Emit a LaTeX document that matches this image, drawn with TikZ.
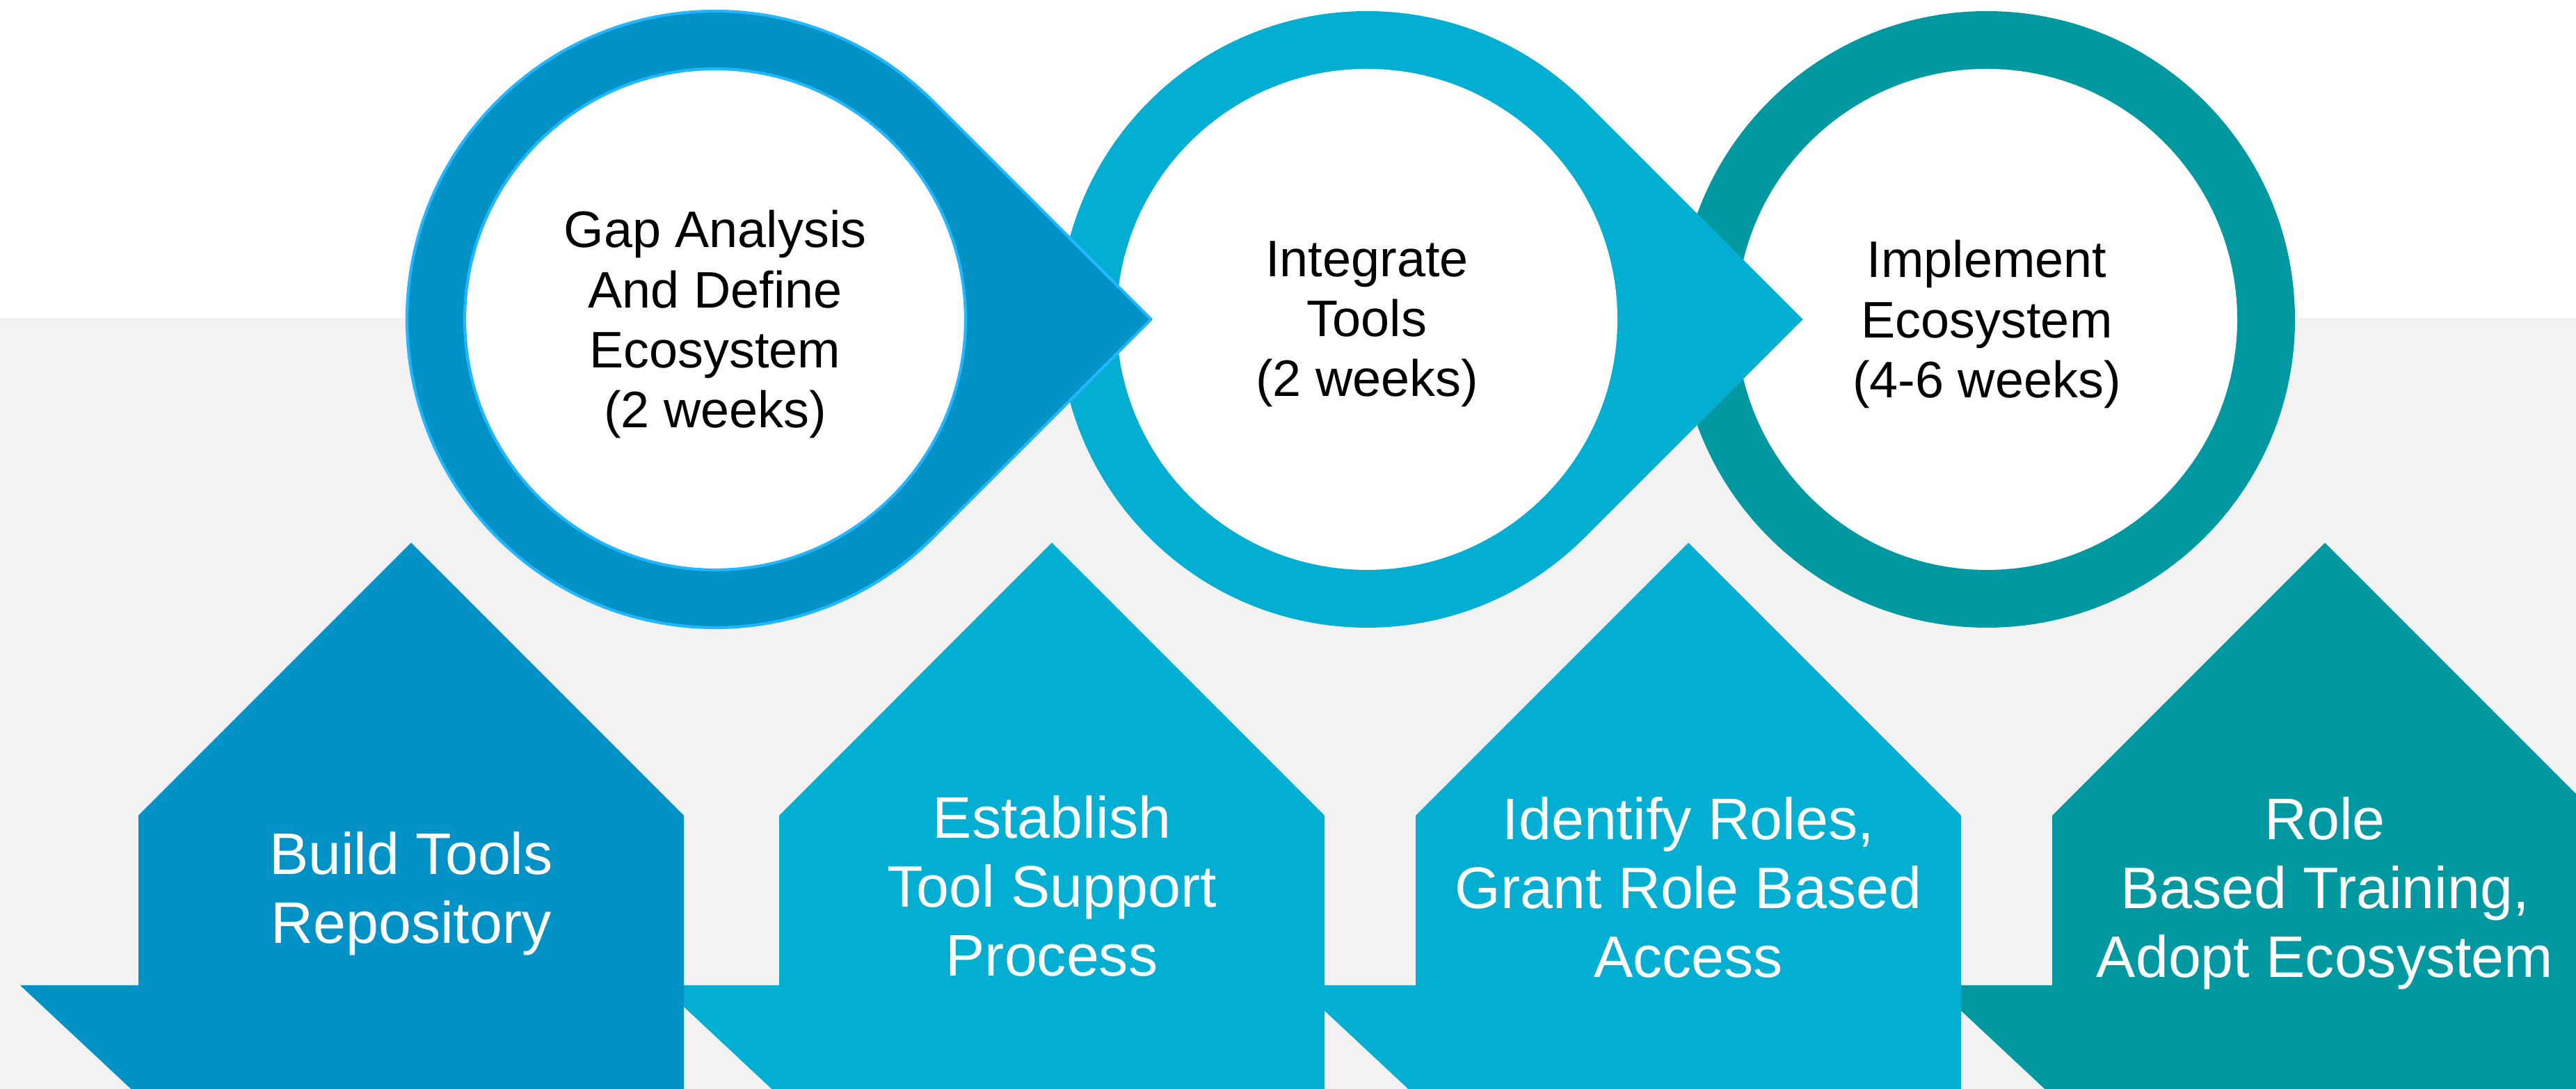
\documentclass[tikz,border=0pt]{standalone}
\usepackage{fontspec}
\setmainfont{Liberation Sans}
\usetikzlibrary{calc}
\definecolor{ringblue}{HTML}{0292C5}
\definecolor{ringcyan}{HTML}{02AFD2}
\definecolor{ringteal}{HTML}{0099A1}
\definecolor{rimblue}{HTML}{22B6FF}
\definecolor{panegrey}{HTML}{F2F2F2}
\tikzstyle{phasetext}=[align=center,text=black,inner sep=0pt,font=\fontsize{21}{24.5}\selectfont]
\tikzstyle{tasktext}=[align=center,text=white,inner sep=0pt,font=\fontsize{24}{28.2}\selectfont]
\tikzstyle{rim}=[draw=rimblue,line width=1.2pt]

\begin{document}
\begin{tikzpicture}

    \clip (0,0) rectangle (37.03,15.65);
    \fill[white] (0,0) rectangle (37.03,15.65);
    \fill[panegrey] (0,0) rectangle (37.03,11.08);

    \def\r{4.43};
    \def\ri{3.60};
    \def\cy{11.06};
    \def\tip{6.265};

% Tails behind the houses
    \foreach \xl/\col in {1.99/ringblue, 11.20/ringcyan, 20.35/ringcyan, 29.50/ringteal}
        \fill[\col] (\xl-1.70,1.49) -- (\xl,1.49) -- (\xl,-0.1) -- cycle;

% Houses
    \foreach \xl/\col in {1.99/ringblue, 11.20/ringcyan, 20.35/ringcyan, 29.50/ringteal}
        \fill[\col] (\xl,-0.1) -- (\xl,3.93) -- (\xl+3.92,7.85) -- (\xl+7.84,3.93) -- (\xl+7.84,-0.1) -- cycle;

% Rings, last one first
    \coordinate (c1) at (10.28,\cy);
    \coordinate (c2) at (19.65,\cy);
    \coordinate (c3) at (28.56,\cy);

    \fill[ringteal] (c3) circle (\r);
    \fill[white] (c3) circle (\ri);

    \fill[ringcyan] ($(c2)+(45:\r)$) arc[start angle=45,end angle=315,radius=\r] -- ($(c2)+(\tip,0)$) -- cycle;
    \fill[white] (c2) circle (\ri);

    \filldraw[rim,fill=ringblue,line join=round] ($(c1)+(45:\r)$) arc[start angle=45,end angle=315,radius=\r] -- ($(c1)+(\tip,0)$) -- cycle;
    \filldraw[rim,fill=white] (c1) circle (\ri);

% Labels
    \foreach \pos/\name/\txt in {{(10.28,10.99)/gap/{Gap Analysis\\And Define\\Ecosystem\\(2 weeks)}},
                                 {(19.65,10.99)/integrate/{Integrate\\Tools\\(2 weeks)}},
                                 {(28.56,10.99)/implement/{Implement\\Ecosystem\\(4-6 weeks)}}}
        \node[phasetext] (\name) at \pos {\txt};

    \foreach \pos/\name/\txt in {{(5.91,2.81)/build/{Build Tools\\Repository}},
                                 {(15.12,2.92)/support/{Establish\\Tool Support\\Process}},
                                 {(24.27,2.90)/roles/{Identify Roles,\\Grant Role Based\\Access}},
                                 {(33.42,2.81)/training/{Role\\Based Training,\\Adopt Ecosystem}}}
        \node[tasktext] (\name) at \pos {\txt};

\end{tikzpicture}
\end{document}
